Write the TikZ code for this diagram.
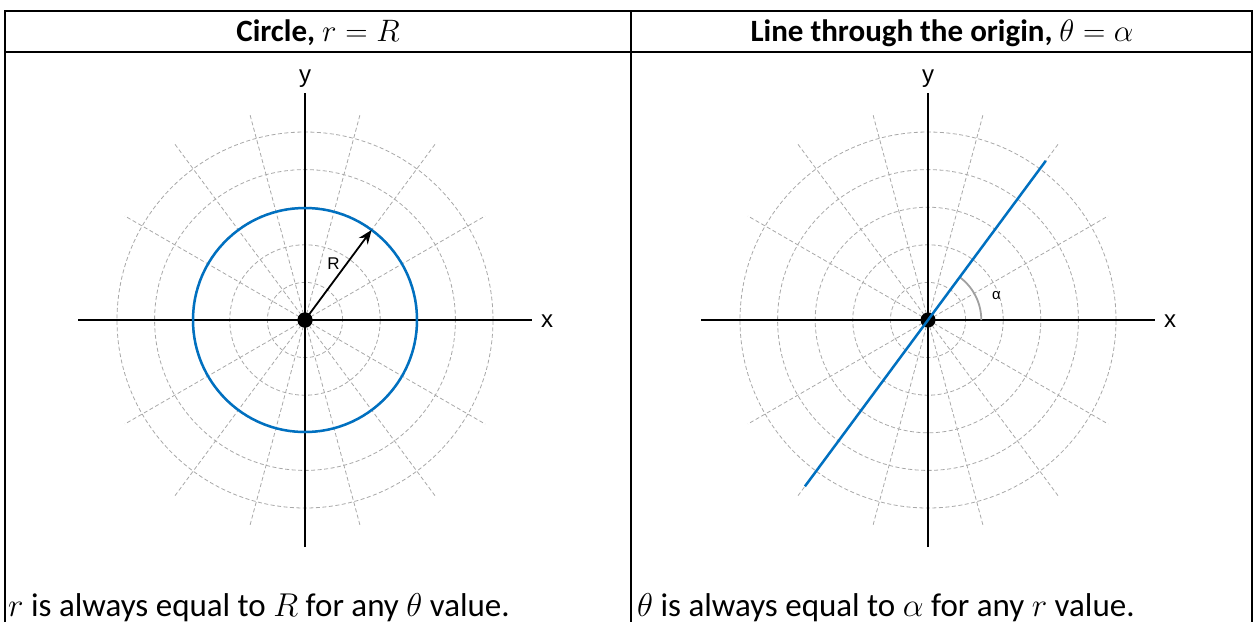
\RequirePackage{fix-cm}
\documentclass[tikz,border=0pt]{standalone}
\usepackage{fontspec}
\setmainfont{Carlito}
\newfontfamily\arialf{Liberation Sans}
\usetikzlibrary{arrows.meta}
\definecolor{wblue}{HTML}{0070C0}
\definecolor{gridgray}{HTML}{A8A8A8}
\definecolor{arcgray}{HTML}{A0A0A0}
\begin{document}
\begin{tikzpicture}[x=1pt,y=1pt,
  tbl/.style={line width=1.6pt,black},
  gridline/.style={gridgray,line width=0.8pt,dash pattern=on 4pt off 2.5pt},
  axisline/.style={line width=2.4pt,black},
  bluecurve/.style={wblue,line width=2.5pt},
  lbl/.style={font=\arialf\fontsize{24}{24}\selectfont,inner sep=0pt,anchor=base},
  hdr/.style={font=\bfseries\fontsize{31}{31}\selectfont,inner sep=0pt,anchor=base},
  bodytxt/.style={font=\fontsize{33}{33}\selectfont,inner sep=0pt,anchor=base west},
  origindot/.style={circle,fill=black,inner sep=0pt,minimum size=15pt}]
\useasboundingbox (0,0) rectangle (1253,-622);
% table
\draw[tbl] (5,-622) -- (5,-11) -- (1252,-11) -- (1252,-622);
\draw[tbl] (5,-51.7) -- (1252,-51.7);
\draw[tbl] (631,-11) -- (631,-622);
\node[hdr] (h1) at (318,-41.7) {Circle, $r = R$};
\node[hdr] (h2) at (942,-41.7) {Line through the origin, $\theta = \alpha$};
\node[bodytxt] (b1) at (8,-616) {$r$ is always equal to $R$ for any $\theta$ value.};
\node[bodytxt] (b2) at (637,-616) {$\theta$ is always equal to $\alpha$ for any $r$ value.};
% left panel
\begin{scope}[shift={(305,-320)}]
  \foreach \r in {37.6,75.2,112.8,150.4,188} \draw[gridline] (0,0) circle[radius=\r];
  \foreach \a/\l in {30/208,53.5/221,75/214,105/214,126.5/221,150/208,210/208,233.5/221,255/214,285/214,306.5/221,330/208}
    \draw[gridline] (0,0) -- (\a:\l);
  \draw[axisline] (-227,0) -- (227,0);
  \draw[axisline] (0,-227) -- (0,227);
  \draw[bluecurve] (0,0) circle[radius=112];
  \coordinate (p1) at (53.5:112);
  \node[origindot] (o1) at (0,0) {};
  \draw[line width=1.8pt,-{Stealth[length=14pt,width=11pt]}] (o1.center) -- (p1);
  \node[origindot] at (0,0) {};
\end{scope}
\node[lbl] (y1) at (305,-82) {y};
\node[lbl] (x1) at (547,-327) {x};
\node[font=\arialf\fontsize{17}{17}\selectfont,inner sep=0pt,anchor=base] (rl) at (333.5,-269) {R};
% right panel
\begin{scope}[shift={(928,-320)}]
  \foreach \r in {37.6,75.2,112.8,150.4,188} \draw[gridline] (0,0) circle[radius=\r];
  \foreach \a/\l in {30/208,53.5/221,75/214,105/214,126.5/221,150/208,210/208,233.5/221,255/214,285/214,306.5/221,330/208}
    \draw[gridline] (0,0) -- (\a:\l);
  \draw[axisline] (-227,0) -- (227,0);
  \draw[axisline] (0,-227) -- (0,227);
  \draw[arcgray,line width=1.8pt] (53.3,0) arc[start angle=0,end angle=53.5,radius=53.3];
  \node[origindot] (o2) at (0,0) {};
  \draw[bluecurve] (233.5:207) -- (53.5:198);
\end{scope}
\node[lbl] (y2) at (928,-82) {y};
\node[lbl] (x2) at (1170,-327) {x};
\node[font=\arialf\fontsize{15}{15}\selectfont,inner sep=0pt,anchor=base] (al) at (996.5,-299) {α};
\end{tikzpicture}
\end{document}
